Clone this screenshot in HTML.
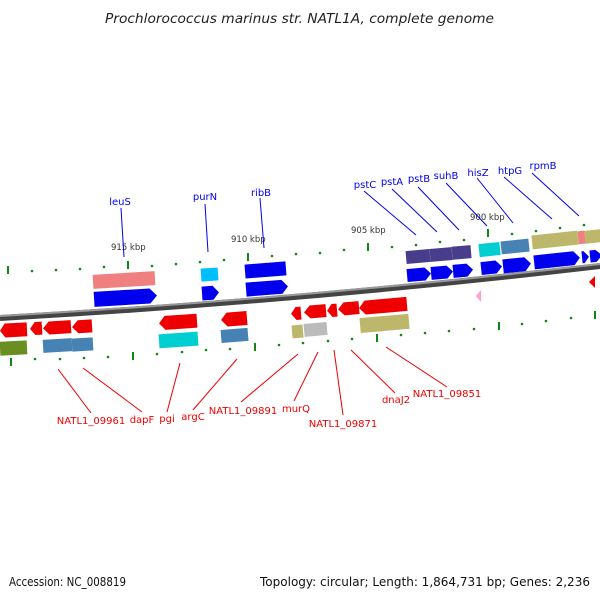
<!DOCTYPE html>
<html><head><meta charset="utf-8"><style>
html,body{margin:0;padding:0;background:#fff;width:600px;height:600px;overflow:hidden}
svg{display:block}
text{font-family:"DejaVu Sans","Liberation Sans",sans-serif}
</style></head><body>
<svg width="600" height="600" viewBox="0 0 600 600" xmlns="http://www.w3.org/2000/svg">
<text x="105" y="23" font-size="13.5" font-style="italic" fill="#222" textLength="389" lengthAdjust="spacingAndGlyphs">Prochlorococcus marinus str. NATL1A, complete genome</text>

<!-- backbone -->
<path d="M0,318 Q300,301 600,266" stroke="#444" stroke-width="6" fill="none"/>
<path d="M0,316 Q300,299 600,264" stroke="#999" stroke-width="2" fill="none"/>

<!-- top ticks -->
<g fill="#118811">
<rect x="7" y="266" width="2" height="8"/>
<circle cx="32" cy="271" r="1.3"/><circle cx="56" cy="270" r="1.3"/><circle cx="80" cy="269" r="1.3"/><circle cx="104" cy="267" r="1.3"/>
<rect x="127" y="261" width="2" height="8"/>
<circle cx="152" cy="266" r="1.3"/><circle cx="176" cy="264" r="1.3"/><circle cx="200" cy="262" r="1.3"/><circle cx="224" cy="260" r="1.3"/>
<rect x="247" y="253" width="2" height="8"/>
<circle cx="272" cy="256" r="1.3"/><circle cx="296" cy="254" r="1.3"/><circle cx="320" cy="253" r="1.3"/><circle cx="344" cy="250" r="1.3"/>
<rect x="367" y="243" width="2" height="8"/>
<circle cx="392" cy="247" r="1.3"/><circle cx="416" cy="245" r="1.3"/><circle cx="440" cy="242" r="1.3"/><circle cx="464" cy="240" r="1.3"/>
<rect x="487" y="229" width="2" height="8"/>
<circle cx="512" cy="234" r="1.3"/><circle cx="536" cy="231" r="1.3"/><circle cx="560" cy="228" r="1.3"/><circle cx="584" cy="225" r="1.3"/>
</g>
<!-- bottom ticks -->
<g fill="#118811">
<rect x="10" y="358" width="2" height="8"/>
<circle cx="35" cy="359" r="1.3"/><circle cx="60" cy="359" r="1.3"/><circle cx="84" cy="358" r="1.3"/><circle cx="108" cy="357" r="1.3"/>
<rect x="132" y="352" width="2" height="8"/>
<circle cx="157" cy="354" r="1.3"/><circle cx="182" cy="352" r="1.3"/><circle cx="206" cy="350" r="1.3"/><circle cx="230" cy="349" r="1.3"/>
<rect x="254" y="343" width="2" height="8"/>
<circle cx="279" cy="345" r="1.3"/><circle cx="303" cy="343" r="1.3"/><circle cx="328" cy="341" r="1.3"/><circle cx="352" cy="339" r="1.3"/>
<rect x="376" y="334" width="2" height="8"/>
<circle cx="401" cy="335" r="1.3"/><circle cx="425" cy="333" r="1.3"/><circle cx="449" cy="331" r="1.3"/><circle cx="474" cy="329" r="1.3"/>
<rect x="498" y="322" width="2" height="8"/>
<circle cx="522" cy="324" r="1.3"/><circle cx="546" cy="321" r="1.3"/><circle cx="571" cy="318" r="1.3"/>
<rect x="594" y="311" width="2" height="8"/>
</g>

<!-- kbp labels -->
<g font-size="8.5" fill="#333">
<text x="111" y="250">915 kbp</text>
<text x="231" y="242">910 kbp</text>
<text x="351" y="233">905 kbp</text>
<text x="470" y="220">900 kbp</text>
</g>

<!-- top row 1 boxes -->
<g stroke="none">
<rect x="93" y="273" width="62" height="14" fill="#f08080" transform="rotate(-3.5 124 280)"/>
<rect x="201" y="268" width="17" height="13" fill="#00bfff" transform="rotate(-4 210 274)"/>
<rect x="245" y="263" width="41" height="14" fill="#0000ee" transform="rotate(-4.5 265 270)"/>
<rect x="406" y="250" width="24" height="13" fill="#483d8b" transform="rotate(-5 418 256)"/>
<rect x="430" y="248" width="22" height="13" fill="#483d8b" transform="rotate(-5 441 254)"/>
<rect x="452" y="246" width="19" height="13" fill="#483d8b" transform="rotate(-5 461 252)"/>
<rect x="479" y="243" width="21" height="13" fill="#00ced1" transform="rotate(-6 490 249)"/>
<rect x="501" y="240" width="28" height="13" fill="#4682b4" transform="rotate(-6 515 246)"/>
<rect x="532" y="233" width="46" height="14" fill="#bdb76b" transform="rotate(-6 555 240)"/>
<rect x="578" y="231" width="7" height="13" fill="#f08080" transform="rotate(-6 581 237)"/>
<rect x="585" y="230" width="16" height="13" fill="#bdb76b" transform="rotate(-6 593 236)"/>
</g>
<!-- top row 2 arrows -->
<g fill="#0000ee">
<polygon points="94,290 150,290 157,297.5 150,305 94,305" transform="rotate(-3.5 125 297)"/>
<polygon points="202,286 213,286 219,293 213,300 202,300" transform="rotate(-4 210 293)"/>
<polygon points="246,281 282,281 288,288 282,295 246,295" transform="rotate(-4.5 267 288)"/>
<polygon points="407,268 425,268 431,274.5 425,281 407,281" transform="rotate(-5 419 274)"/>
<polygon points="431,266 447,266 453,272.5 447,279 431,279" transform="rotate(-5 442 272)"/>
<polygon points="453,264 467,264 473,270.5 467,277 453,277" transform="rotate(-5 463 270)"/>
<polygon points="481,261 496,261 502,267.5 496,274 481,274" transform="rotate(-6 491 267)"/>
<polygon points="503,258 525,258 531,265 525,272 503,272" transform="rotate(-6 517 265)"/>
<polygon points="534,253 574,253 580,260 574,267 534,267" transform="rotate(-6 557 260)"/>
<polygon points="582,251 584,251 589,257 584,263 582,263" transform="rotate(-6 585 257)"/>
<polygon points="590,250 596,250 602,256 596,262 590,262" transform="rotate(-6 595 256)"/>
</g>
<polygon points="476,296 481,290 481,302" fill="#ff9ecf"/>
<polygon points="589,282 595,276 595,288" fill="#ee0000"/>

<!-- bottom row 1 red arrows -->
<g fill="#ee0000">
<polygon points="5,323 27,323 27,337 5,337 0,330" transform="rotate(-3 14 330)"/>
<polygon points="35,322 42,322 42,335 35,335 30,328.5" transform="rotate(-3.5 36 328)"/>
<polygon points="49,321 71,321 71,334 49,334 43,327.5" transform="rotate(-3.5 57 327)"/>
<polygon points="78,320 92,320 92,333 78,333 72,326.5" transform="rotate(-3.5 82 326)"/>
<polygon points="165,315 197,315 197,329 165,329 159,322" transform="rotate(-4 178 322)"/>
<polygon points="227,312 247,312 247,326 227,326 221,319" transform="rotate(-4.5 234 319)"/>
<polygon points="296,307 301,307 301,320 296,320 291,313.5" transform="rotate(-5 296 313)"/>
<polygon points="310,305 326,305 326,318 310,318 304,311.5" transform="rotate(-5 315 311)"/>
<polygon points="332,304 337,304 337,317 332,317 327,310.5" transform="rotate(-5 332 310)"/>
<polygon points="344,302 359,302 359,315 344,315 338,308.5" transform="rotate(-5 348 308)"/>
<polygon points="365,299 407,299 407,313 365,313 359,306" transform="rotate(-5 383 306)"/>
</g>
<!-- bottom row 2 boxes -->
<rect x="0" y="341" width="27" height="14" fill="#6b8e23" transform="rotate(-3 14 348)"/>
<rect x="43" y="339" width="29" height="13" fill="#4682b4" transform="rotate(-3.5 57 345)"/>
<rect x="72" y="338" width="21" height="13" fill="#4682b4" transform="rotate(-3.5 82 344)"/>
<rect x="159" y="333" width="39" height="14" fill="#00ced1" transform="rotate(-4 178 340)"/>
<rect x="221" y="329" width="27" height="13" fill="#4682b4" transform="rotate(-4.5 234 335)"/>
<rect x="292" y="325" width="11" height="13" fill="#bdb76b" transform="rotate(-5 297 331)"/>
<rect x="304" y="323" width="23" height="13" fill="#bbbbbb" transform="rotate(-5 315 329)"/>
<rect x="360" y="316" width="49" height="15" fill="#bdb76b" transform="rotate(-5 384 323)"/>

<!-- top labels -->
<g stroke="#0000ee" stroke-width="1">
<line x1="121" y1="208" x2="124" y2="257"/>
<line x1="205" y1="204" x2="208" y2="252"/>
<line x1="260" y1="198" x2="264" y2="248"/>
<line x1="364" y1="191" x2="416" y2="235"/>
<line x1="392" y1="189" x2="437" y2="232"/>
<line x1="418" y1="187" x2="459" y2="230"/>
<line x1="446" y1="183" x2="487" y2="226"/>
<line x1="477" y1="178" x2="513" y2="223"/>
<line x1="504" y1="177" x2="552" y2="219"/>
<line x1="532" y1="173" x2="579" y2="216"/>
</g>
<g font-size="10" fill="#0000ee" text-anchor="middle">
<text x="120" y="205">leuS</text>
<text x="205" y="200">purN</text>
<text x="261" y="196">ribB</text>
<text x="365" y="188">pstC</text>
<text x="392" y="185">pstA</text>
<text x="419" y="182">pstB</text>
<text x="446" y="179">suhB</text>
<text x="478" y="176">hisZ</text>
<text x="510" y="174">htpG</text>
<text x="543" y="169">rpmB</text>
</g>

<!-- bottom labels -->
<g stroke="#ee0000" stroke-width="1">
<line x1="58" y1="369" x2="91" y2="413"/>
<line x1="83" y1="368" x2="142" y2="412"/>
<line x1="180" y1="363" x2="167" y2="412"/>
<line x1="237" y1="359" x2="193" y2="410"/>
<line x1="298" y1="354" x2="241" y2="402"/>
<line x1="318" y1="352" x2="294" y2="401"/>
<line x1="334" y1="350" x2="343" y2="415"/>
<line x1="351" y1="350" x2="395" y2="393"/>
<line x1="386" y1="347" x2="447" y2="387"/>
</g>
<g font-size="10" fill="#ee0000" text-anchor="middle">
<text x="91" y="424">NATL1_09961</text>
<text x="142" y="423">dapF</text>
<text x="167" y="422">pgi</text>
<text x="193" y="420">argC</text>
<text x="243" y="414">NATL1_09891</text>
<text x="296" y="412">murQ</text>
<text x="343" y="427">NATL1_09871</text>
<text x="396" y="403">dnaJ2</text>
<text x="447" y="397">NATL1_09851</text>
</g>

<text x="9" y="586" font-size="12" fill="#111" textLength="117" lengthAdjust="spacingAndGlyphs">Accession: NC_008819</text>
<text x="260" y="586" font-size="12" fill="#111" textLength="330" lengthAdjust="spacingAndGlyphs">Topology: circular; Length: 1,864,731 bp; Genes: 2,236</text>
</svg>
</body></html>
